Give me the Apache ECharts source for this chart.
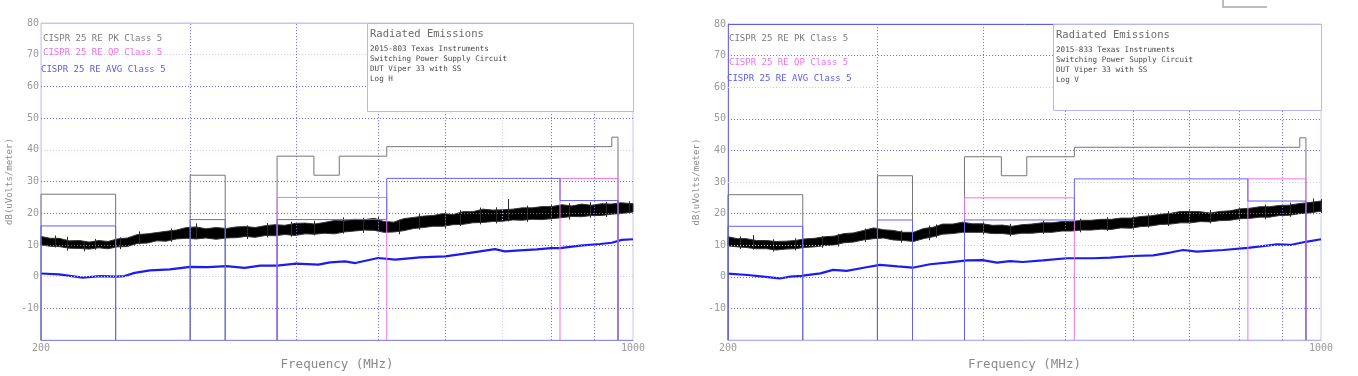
<!DOCTYPE html>
<html>
<head>
<meta charset="utf-8">
<title>Radiated Emissions</title>
<script src="https://cdn.jsdelivr.net/npm/echarts@6/dist/echarts.min.js"></script>
<style>
  html, body { margin: 0; padding: 0; background: #fff; }
  #chart { width: 1358px; height: 376px; }
</style>
</head>
<body>
<div id="chart"></div>
<script>
// CISPR 25 class 5 limits, bands as [fStart MHz, fEnd MHz, level dBuV/m]
var pkBands = [[200, 245, 26], [300, 330, 32], [380, 420, 38], [420, 450, 32], [450, 512, 38], [512, 944, 41], [944, 960, 44]];
var qpBands = [[380, 512, 25], [820, 960, 31]];
var avgBands = [[200, 245, 16], [300, 330, 18], [380, 512, 18], [512, 820, 31], [820, 960, 24]];

// peak trace envelope
var peakFreq = [200, 205, 210, 216, 222, 228, 234, 240, 246, 253, 260, 267, 274, 281, 289, 297, 305, 313, 322, 331,
  340, 349, 358, 368, 378, 388, 399, 410, 421, 432, 444, 456, 469, 482, 495, 508, 522, 536, 551, 566,
  581, 597, 613, 630, 647, 665, 683, 702, 721, 740, 760, 781, 802, 824, 847, 870, 893, 918, 943, 968, 1000];
var peakLoH = [10.0, 9.6, 9.5, 9.0, 8.9, 8.7, 9.1, 8.8, 9.4, 9.5, 10.5, 10.6, 11.3, 11.2, 11.9, 12.1, 11.9, 12.2, 11.8, 12.2,
  12.3, 12.7, 12.4, 13.0, 12.9, 13.3, 13.0, 13.5, 13.4, 13.7, 13.5, 14.1, 14.4, 14.7, 14.6, 14.0, 14.1, 14.5, 15.2, 15.5,
  15.9, 15.9, 16.4, 16.5, 17.0, 17.1, 17.4, 17.5, 17.9, 17.8, 18.1, 18.0, 18.3, 18.6, 19.0, 18.9, 19.3, 19.3, 19.7, 19.9, 20.4];
var peakHiH = [12.7, 12.1, 12.1, 11.3, 11.4, 10.9, 11.4, 11.1, 11.9, 12.2, 13.3, 13.5, 13.9, 14.3, 14.7, 15.5, 15.7, 15.1, 15.5, 15.2,
  15.7, 15.8, 15.5, 16.1, 16.4, 16.2, 16.8, 16.9, 16.6, 17.1, 17.7, 17.6, 18.1, 18.0, 18.4, 17.4, 17.2, 18.3, 18.7, 19.1,
  19.3, 19.9, 19.6, 20.5, 20.5, 21.3, 21.0, 21.1, 21.3, 21.7, 21.7, 22.1, 22.1, 22.7, 22.3, 22.9, 22.5, 23.0, 22.9, 23.3, 23.0];
var peakLoV = [9.8, 9.5, 9.3, 8.9, 8.9, 8.5, 8.8, 8.9, 9.3, 9.5, 9.9, 10.1, 10.8, 11.0, 11.7, 12.1, 12.3, 11.7, 11.5, 11.2,
  12.1, 12.7, 13.5, 13.7, 14.1, 14.1, 14.1, 13.7, 13.7, 13.4, 13.8, 13.8, 14.1, 14.1, 14.5, 14.5, 14.8, 14.8, 15.1, 15.0,
  15.5, 15.4, 15.9, 16.1, 16.6, 16.7, 17.1, 17.1, 17.5, 17.4, 17.8, 17.9, 18.4, 18.5, 18.9, 18.9, 19.4, 19.5, 20.0, 20.2, 20.8];
var peakHiV = [12.7, 12.1, 12.1, 11.5, 11.5, 11.2, 11.3, 11.5, 12.0, 12.2, 12.7, 12.9, 13.7, 13.9, 14.7, 15.5, 14.9, 14.7, 14.1, 14.1,
  15.3, 15.7, 16.7, 16.7, 17.3, 16.8, 16.8, 16.3, 16.4, 16.0, 16.5, 16.7, 17.1, 17.1, 17.5, 17.5, 17.9, 17.9, 18.2, 18.2,
  18.6, 18.6, 19.1, 19.3, 19.8, 20.1, 20.7, 20.7, 20.6, 20.2, 20.7, 20.9, 21.5, 21.7, 22.2, 22.2, 22.6, 22.7, 23.2, 23.5, 24.0];
// narrow noise spikes on the peak trace [freq, from, to]
var spikesH = [[208, 9.2, 13.0], [215, 8.2, 12.6], [225, 8.0, 11.0], [232, 8.5, 11.9], [248, 8.7, 12.4], [261, 10.2, 14.3],
  [285, 11, 15.2], [305, 12, 16.8], [330, 11.5, 16.0], [350, 11.9, 16.2], [370, 12.4, 16.9], [395, 12.6, 17.3],
  [420, 13, 17.6], [455, 13.6, 18.7], [480, 13.8, 18.6], [500, 14, 18.9], [530, 13.4, 18.0], [560, 14.8, 20.0],
  [600, 15.2, 20.5], [625, 16, 21.0], [660, 16.5, 21.8], [690, 16.8, 21.9], [712, 17.4, 24.5], [750, 17.3, 22.4],
  [800, 17.6, 22.8], [840, 18, 23.2], [890, 18.6, 23.5], [930, 18.8, 23.6], [960, 19.3, 24.0], [990, 19.8, 23.8]];
var spikesV = [[207, 8.8, 12.8], [214, 8.6, 13.2], [226, 8.0, 11.9], [240, 8.4, 12.2], [258, 9.2, 12.9], [270, 9.6, 13.6],
  [290, 11.0, 15.3], [300, 11.8, 16.2], [320, 10.8, 14.7], [345, 11.6, 16.2], [352, 12.4, 16.6], [380, 13.6, 17.9],
  [400, 13.4, 17.5], [430, 12.8, 16.8], [470, 13.6, 17.8], [520, 14.1, 18.4], [560, 14.5, 18.9], [600, 14.9, 19.4],
  [625, 15.6, 19.8], [660, 16.1, 20.8], [700, 16.8, 21.4], [740, 16.9, 21.2], [800, 17.7, 22.0], [860, 18.2, 22.9],
  [920, 19.0, 23.5], [980, 19.8, 24.8], [1000, 20.2, 24.6]];

// average trace
var avgFreqH = [200, 210, 224, 235, 245, 251, 258, 269, 284, 300, 315, 331, 348, 363, 380, 400, 425, 439, 457, 470,
  500, 524, 560, 600, 630, 660, 687, 706, 735, 770, 800, 820, 866, 914, 944, 970, 1000];
var avgValH = [1.0, 0.7, -0.3, 0.2, 0.0, 0.2, 1.2, 2.0, 2.3, 3.1, 3.0, 3.3, 2.8, 3.5, 3.5, 4.1, 3.8, 4.5, 4.8, 4.3,
  5.9, 5.4, 6.1, 6.4, 7.2, 8.0, 8.7, 8.0, 8.3, 8.6, 9.0, 9.0, 9.8, 10.3, 10.7, 11.6, 11.8];
var avgFreqV = [200, 211, 220, 230, 237, 244, 257, 266, 276, 289, 302, 317, 330, 346, 362, 383, 399, 415, 430, 445,
  470, 502, 539, 564, 600, 634, 664, 688, 714, 767, 820, 888, 920, 960, 1000];
var avgValV = [1.0, 0.6, 0.1, -0.5, 0.1, 0.3, 1.1, 2.2, 1.9, 2.9, 3.8, 3.3, 2.9, 4.0, 4.5, 5.2, 5.3, 4.5, 5.0, 4.7,
  5.2, 5.9, 5.9, 6.1, 6.6, 6.8, 7.7, 8.5, 8.0, 8.5, 9.2, 10.3, 10.1, 11.1, 11.9];

// axes
var yMin = -20, yMax = 80, yStep = 10;
var yGridValues = [-10, 0, 10, 20, 30, 40, 50, 60, 70];
var xGridFreqs = [300, 400, 500, 600, 700, 800, 900];
var xTickLabels = [200, 1000];

var legendTexts = ['CISPR 25 RE PK Class 5', 'CISPR 25 RE QP Class 5', 'CISPR 25 RE AVG Class 5'];
var boxTitle = 'Radiated Emissions';
var boxLinesH = ['2015-803 Texas Instruments', 'Switching Power Supply Circuit', 'DUT Viper 33 with SS', 'Log H'];
var boxLinesV = ['2015-833 Texas Instruments', 'Switching Power Supply Circuit', 'DUT Viper 33 with SS', 'Log V'];

var MONO = '"DejaVu Sans Mono", "Liberation Mono", monospace';
var DARK = '#6a6aea', LIGHT = '#cacaf4';
var PK_C = '#767676', QP_C = '#f070f0', AVG_C = '#6262ee';

// turn bands into polylines, contiguous bands joined, edges dropped to the floor
function stepRuns(bands) {
  var runs = [], cur = null;
  bands.forEach(function (b) {
    if (cur && cur[cur.length - 1][0] === b[0]) {
      cur.pop();
      cur.push([b[0], b[2]], [b[1], b[2]], [b[1], yMin]);
    } else {
      cur = [[b[0], yMin], [b[0], b[2]], [b[1], b[2]], [b[1], yMin]];
      runs.push(cur);
    }
  });
  return runs;
}

function limitSeries(gi, bands, color) {
  return stepRuns(bands).map(function (pts) {
    return {
      type: 'line', xAxisIndex: gi, yAxisIndex: gi, data: pts, showSymbol: false, silent: true, z: 5,
      lineStyle: { color: color, width: 1 }
    };
  });
}

function gridSeries(gi, lightY, lightX, topColor) {
  var d = [];
  yGridValues.forEach(function (v) {
    d.push({ yAxis: v, lineStyle: { color: lightY.indexOf(v) >= 0 ? LIGHT : DARK } });
  });
  xGridFreqs.forEach(function (f) {
    d.push({ xAxis: f, lineStyle: { color: lightX.indexOf(f) >= 0 ? LIGHT : DARK } });
  });
  d.push({ yAxis: yMax, lineStyle: { color: topColor, type: 'solid' } });
  return {
    type: 'line', xAxisIndex: gi, yAxisIndex: gi, data: [], z: 1,
    markLine: {
      silent: true, symbol: ['none', 'none'], label: { show: false }, animation: false,
      lineStyle: { type: [1, 2], width: 1 }, data: d
    }
  };
}

function bandSeries(gi, lo, hi) {
  return {
    type: 'custom', xAxisIndex: gi, yAxisIndex: gi, silent: true, z: 3,
    data: [[peakFreq[0], lo[0]]],
    renderItem: function (params, api) {
      var pts = [];
      for (var i = 0; i < peakFreq.length; i++) pts.push(api.coord([peakFreq[i], hi[i]]));
      for (var j = peakFreq.length - 1; j >= 0; j--) pts.push(api.coord([peakFreq[j], lo[j]]));
      return { type: 'polygon', shape: { points: pts }, style: { fill: '#000', stroke: '#333', lineWidth: 1 } };
    }
  };
}

function spikeSeries(gi, spikes) {
  return {
    type: 'lines', coordinateSystem: 'cartesian2d', xAxisIndex: gi, yAxisIndex: gi, silent: true, z: 3,
    lineStyle: { color: '#2a2a2a', width: 1, opacity: 1 },
    data: spikes.map(function (s) { return { coords: [[s[0], s[1]], [s[0], s[2]]] }; })
  };
}

function avgSeries(gi, fs, vs) {
  return {
    type: 'line', xAxisIndex: gi, yAxisIndex: gi, showSymbol: false, silent: true, z: 4,
    data: fs.map(function (f, i) { return [f, vs[i]]; }),
    lineStyle: { color: '#1c1cf2', width: 2.2 }
  };
}

function xAxisDef(gi, lineColor) {
  return {
    type: 'log', logBase: 10, gridIndex: gi, min: 200, max: 1000,
    name: 'Frequency (MHz)', nameLocation: 'middle', nameGap: 13,
    nameTextStyle: { fontFamily: MONO, fontSize: 12.5, color: '#8a8a8a' },
    axisLine: { onZero: false, lineStyle: { color: lineColor } },
    axisTick: { show: false }, splitLine: { show: false }, minorTick: { show: false },
    axisLabel: {
      margin: 3, fontFamily: MONO, fontSize: 10, color: '#999',
      showMinLabel: true, showMaxLabel: true,
      formatter: function (v) {
        var r = Math.round(v);
        return xTickLabels.indexOf(r) >= 0 && Math.abs(v - r) < 1e-6 ? String(r) : '';
      }
    }
  };
}

function yAxisDef(gi, lineColor) {
  return {
    type: 'value', gridIndex: gi, min: yMin, max: yMax, interval: yStep,
    name: 'dB(uVolts/meter)', nameLocation: 'middle', nameGap: 27, nameRotate: 90,
    nameTextStyle: { fontFamily: MONO, fontSize: 9, color: '#8a8a8a' },
    axisLine: { show: true, lineStyle: { color: lineColor } },
    axisTick: { show: false }, splitLine: { show: false },
    axisLabel: {
      margin: 2, fontFamily: MONO, fontSize: 10, color: '#999',
      formatter: function (v) { return v === yMin ? '' : String(v); }
    }
  };
}

function txt(x, y, s, size, color) {
  return { type: 'text', z: 100, x: x, y: y, style: { text: s, font: size + 'px ' + MONO, fill: color, verticalAlign: 'middle' } };
}

function annotations(legendX, legendY, box, lines) {
  var g = [];
  g.push(txt(legendX[0], legendY[0], legendTexts[0], 9, '#7c7c7c'));
  g.push(txt(legendX[1], legendY[1], legendTexts[1], 9, '#ee72ee'));
  g.push(txt(legendX[2], legendY[2], legendTexts[2], 9, '#5c5cee'));
  g.push({ type: 'rect', z: 90, shape: { x: box[0] + 0.5, y: box[1] + 0.5, width: box[2], height: box[3] },
    style: { fill: '#fff', stroke: '#b6b6f0', lineWidth: 1 } });
  g.push(txt(box[0] + 3, box[1] + 11, boxTitle, 10.5, '#6a6a6a'));
  lines.forEach(function (s, i) { g.push(txt(box[0] + 3, box[1] + 26 + i * 10, s, 7.6, '#4a4a4a')); });
  return g;
}

var chart = echarts.init(document.getElementById('chart'), null, { renderer: 'canvas' });

var series = [].concat(
  [gridSeries(0, [0, 40, 70], [700], '#c6c6ee'), bandSeries(0, peakLoH, peakHiH), spikeSeries(0, spikesH), avgSeries(0, avgFreqH, avgValH)],
  limitSeries(0, pkBands, PK_C), limitSeries(0, qpBands, QP_C), limitSeries(0, avgBands, AVG_C),
  [gridSeries(1, [10, 30, 60], [], '#5c5cee'), bandSeries(1, peakLoV, peakHiV), spikeSeries(1, spikesV), avgSeries(1, avgFreqV, avgValV)],
  limitSeries(1, pkBands, PK_C), limitSeries(1, qpBands, QP_C), limitSeries(1, avgBands, AVG_C)
);

chart.setOption({
  animation: false,
  backgroundColor: '#fff',
  grid: [
    { left: 41, top: 23, width: 592, height: 322, show: true, borderColor: '#c6c6ee', borderWidth: 1 },
    { left: 728, top: 24, width: 593, height: 317, show: true, borderColor: '#c4c4f2', borderWidth: 1 }
  ],
  xAxis: [xAxisDef(0, '#8a8aee'), xAxisDef(1, '#b0b0f0')],
  yAxis: [yAxisDef(0, '#d8d8d8'), yAxisDef(1, '#6c6cee')],
  series: series,
  graphic: [].concat(
    annotations([43, 43, 41], [39, 53, 70], [367, 23, 266, 88], boxLinesH),
    annotations([729, 729, 727], [39, 63, 79], [1053, 24, 268, 86], boxLinesV),
    [{ type: 'polyline', z: 100, shape: { points: [[1223, 0], [1223, 7], [1267, 7]] }, style: { stroke: '#bdbdbd', lineWidth: 2, fill: null } }]
  )
});
</script>
</body>
</html>
